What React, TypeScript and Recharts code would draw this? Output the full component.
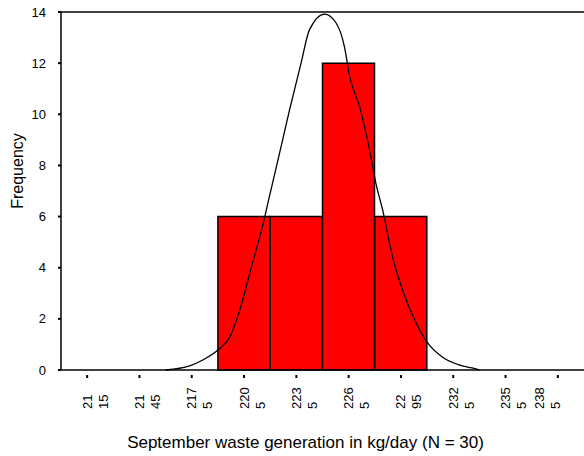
import React from "react";
import {
  Bar,
  ComposedChart,
  Line,
  ReferenceLine,
  XAxis,
  YAxis,
} from "recharts";

// x tick labels (wrapped in two lines like the original)
const categories = [
  "21|15",
  "21|45",
  "217|5",
  "220|5",
  "223|5",
  "226|5",
  "22|95",
  "232|5",
  "235|5",
  "238|5",
];
const frequency = [0, 0, 0, 6, 6, 12, 6, 0, 0, 0];
const yTicks = [0, 2, 4, 6, 8, 10, 12, 14];

// normal curve (position in bins, frequency)
const curveX = [
  2.0, 2.46, 2.71, 3.0, 3.23, 3.42, 3.61, 3.73, 3.85, 3.97, 4.18, 4.37, 4.59,
  4.75, 5.04, 5.26, 5.42, 5.52, 5.71, 5.9, 6.02, 6.15, 6.34, 6.53, 6.79, 7.04,
  7.29, 7.61, 7.86, 8.0,
];
const curveY = [
  0.0, 0.16, 0.39, 0.78, 1.3, 2.35, 3.79, 4.69, 5.59, 6.65, 8.49, 10.17, 12.0,
  13.3, 13.92, 13.57, 12.64, 11.47, 10.3, 8.6, 7.31, 6.26, 4.42, 3.13, 1.84,
  0.98, 0.51, 0.2, 0.08, 0.0,
];

const barData = categories.map((label, i) => ({ label, count: frequency[i] }));
const curveData = curveX.map((u, i) => ({ u, v: curveY[i] }));

const XTick = (props: any) => {
  const { x, y, payload, index } = props;
  const lines = String(payload.value).split("|");
  const shift = index === categories.length - 1 ? -18 : 0;
  return (
    <g>
      <line x1={x} x2={x} y1={y + 3} y2={y + 6} stroke="#000" strokeWidth={2} />
      {lines.map((t, i) => (
        <text
          key={i}
          transform={`translate(${x + shift + i * 16}, ${y + 37}) rotate(-90)`}
          textAnchor="start"
          dominantBaseline="central"
          fontSize={13}
          fill="#000"
        >
          {t}
        </text>
      ))}
    </g>
  );
};

export default function App() {
  return (
    <div
      style={{
        position: "absolute",
        left: 0,
        top: 0,
        fontFamily: "'Liberation Sans', Arial, sans-serif",
      }}
    >
      <ComposedChart
        width={584}
        height={456}
        data={barData}
        barCategoryGap={0}
        margin={{ top: 12, right: 0, left: 0, bottom: 0 }}
      >
        <XAxis
          dataKey="label"
          height={86}
          interval={0}
          tickLine={false}
          tickSize={0}
          tick={<XTick />}
          axisLine={{ stroke: "#000", strokeWidth: 1.5 }}
          label={{
            value: "September waste generation in kg/day (N = 30)",
            position: "insideBottom",
            offset: 8,
            dx: -17,
            fontSize: 17,
            fill: "#000",
          }}
        />
        <XAxis
          xAxisId="curve"
          dataKey="u"
          type="number"
          domain={[0, 10]}
          allowDataOverflow
          hide
        />
        <YAxis
          width={61}
          domain={[0, 14]}
          ticks={yTicks}
          interval={0}
          tickSize={3}
          tickMargin={12}
          tick={{ fontSize: 13, fill: "#000" }}
          tickLine={{ stroke: "#000", strokeWidth: 2 }}
          axisLine={{ stroke: "#000", strokeWidth: 1.5 }}
          label={{
            value: "Frequency",
            angle: -90,
            position: "center",
            dx: -13,
            dy: -20,
            fontSize: 16,
            fill: "#000",
          }}
        />
        <ReferenceLine y={14} stroke="#000" strokeWidth={1.5} />
        <Bar
          dataKey="count"
          fill="#FF0000"
          stroke="#000"
          strokeWidth={1.5}
          isAnimationActive={false}
        />
        <Line
          xAxisId="curve"
          data={curveData}
          dataKey="v"
          type="monotone"
          stroke="#000"
          strokeWidth={1.3}
          dot={false}
          isAnimationActive={false}
        />
      </ComposedChart>
    </div>
  );
}
